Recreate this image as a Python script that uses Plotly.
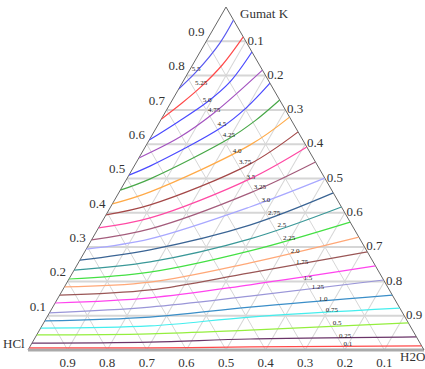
import plotly.graph_objects as go

# Contour levels (labels) from bottom (near HCl-H2O edge) to top (near Gumat K apex)
LEVELS = ["0.1", "0.25", "0.5", "0.75", "1.0", "1.25", "1.5", "1.75", "2.0", "2.25",
          "2.5", "2.75", "3.0", "3.25", "3.5", "3.75", "4.0", "4.25", "4.5", "4.75",
          "5.0", "5.25", "5.5"]

# Points along each contour: Gumat K fraction and H2O fraction (HCl = remainder)
CURVE_GUMAT_K = [
    [0.006, 0.006, 0.009, 0.012],
    [0.020, 0.023, 0.032, 0.038],
    [0.044, 0.047, 0.058, 0.079],
    [0.064, 0.070, 0.096, 0.122],
    [0.085, 0.096, 0.125, 0.160],
    [0.108, 0.125, 0.157, 0.204],
    [0.137, 0.152, 0.190, 0.245],
    [0.160, 0.175, 0.225, 0.286],
    [0.184, 0.198, 0.254, 0.329],
    [0.207, 0.227, 0.289, 0.373],
    [0.233, 0.257, 0.324, 0.417],
    [0.262, 0.292, 0.364, 0.458],
    [0.294, 0.324, 0.417, 0.501],
    [0.321, 0.353, 0.458, 0.548],
    [0.356, 0.385, 0.499, 0.592],
    [0.394, 0.423, 0.542, 0.636],
    [0.426, 0.461, 0.598, 0.679],
    [0.466, 0.499, 0.618, 0.668, 0.729],
    [0.510, 0.536, 0.650, 0.706, 0.778],
    [0.560, 0.621, 0.691, 0.816],
    [0.612, 0.665, 0.723, 0.781, 0.869],
    [0.673, 0.720, 0.767, 0.831, 0.913],
    [0.761, 0.810, 0.895, 0.962],
]
CURVE_H2O = [
    [0.0, 0.305, 0.556, 0.988],
    [0.0, 0.296, 0.545, 0.962],
    [0.0, 0.285, 0.531, 0.921],
    [0.0, 0.273, 0.513, 0.878],
    [0.0, 0.260, 0.498, 0.840],
    [0.0, 0.245, 0.482, 0.796],
    [0.0, 0.232, 0.466, 0.755],
    [0.0, 0.221, 0.448, 0.714],
    [0.0, 0.209, 0.434, 0.671],
    [0.0, 0.194, 0.416, 0.627],
    [0.0, 0.180, 0.399, 0.583],
    [0.0, 0.162, 0.378, 0.542],
    [0.0, 0.146, 0.352, 0.499],
    [0.0, 0.132, 0.332, 0.452],
    [0.0, 0.116, 0.311, 0.408],
    [0.0, 0.097, 0.289, 0.364],
    [0.0, 0.078, 0.262, 0.321],
    [0.0, 0.059, 0.201, 0.239, 0.271],
    [0.0, 0.040, 0.165, 0.198, 0.222],
    [0.0, 0.073, 0.124, 0.184],
    [0.0, 0.046, 0.091, 0.119, 0.131],
    [0.0, 0.029, 0.053, 0.075, 0.087],
    [0.0, 0.019, 0.037, 0.038],
]

# Label anchor positions (Gumat K, H2O)
LABEL_GUMAT_K = [0.018, 0.041, 0.079, 0.117, 0.149, 0.184, 0.210, 0.257, 0.289, 0.327,
                 0.364, 0.399, 0.437, 0.475, 0.504, 0.548, 0.580, 0.627, 0.659, 0.700,
                 0.729, 0.778, 0.819]
LABEL_H2O = [0.799, 0.780, 0.741, 0.709, 0.671, 0.640, 0.602, 0.564, 0.530, 0.496,
             0.459, 0.422, 0.382, 0.348, 0.311, 0.274, 0.238, 0.194, 0.160, 0.120,
             0.088, 0.048, 0.015]

TICK_VALUES = [0.1, 0.2, 0.3, 0.4, 0.5, 0.6, 0.7, 0.8, 0.9]
TICK_TEXT = ["0.1", "0.2", "0.3", "0.4", "0.5", "0.6", "0.7", "0.8", "0.9"]

COLORS = ["#ff4a4a", "#6a3468", "#94ee3e", "#44eeee", "#3a8ec8", "#9a96d8",
          "#ff44ee", "#9a5656", "#ffa878", "#44e044", "#3a9898", "#3a6494",
          "#a8a8ff", "#a45c7c", "#ff4aa4", "#a44848", "#ffaa48", "#48a848",
          "#4a4aff", "#a454c0", "#4a4aff", "#ff4a4a", "#5a5af0"]

FONT = "Liberation Serif"

fig = go.Figure()
for lvl, a_list, c_list, col in zip(LEVELS, CURVE_GUMAT_K, CURVE_H2O, COLORS):
    b_list = [max(0.0, 1 - a - c) for a, c in zip(a_list, c_list)]
    fig.add_trace(go.Scatterternary(
        a=a_list, b=b_list, c=c_list, mode="lines", name=lvl,
        line=dict(color=col, width=1.2, shape="spline", smoothing=1),
        hoverinfo="skip", showlegend=False, cliponaxis=False))

label_b = [max(0.0, 1 - a - c) for a, c in zip(LABEL_GUMAT_K, LABEL_H2O)]
fig.add_trace(go.Scatterternary(
    a=LABEL_GUMAT_K, b=label_b, c=LABEL_H2O, mode="text", text=LEVELS,
    textfont=dict(family=FONT, size=7, color="#222"),
    hoverinfo="skip", showlegend=False, cliponaxis=False))

def axis(linecolor, linewidth, gridwidth, ticktext):
    return dict(
        min=0, tickvals=TICK_VALUES, ticktext=ticktext, ticks="",
        showgrid=True, gridcolor="#d6d6d6", gridwidth=gridwidth,
        showline=True, linecolor=linecolor, linewidth=linewidth,
        tickfont=dict(family=FONT, size=13, color="#333"),
        title=dict(text=""), layer="below traces")

a_ticktext = [t + "<br> " for t in TICK_TEXT]

fig.update_layout(
    width=425, height=369,
    margin=dict(l=28, r=1, t=7, b=19),
    paper_bgcolor="white",
    showlegend=False,
    ternary=dict(
        sum=1, bgcolor="white",
        aaxis=axis("#666666", 1, 1.6, a_ticktext),
        baxis=axis("#aaaaaa", 3, 1, TICK_TEXT),
        caxis=axis("#666666", 1, 1, TICK_TEXT),
    ),
    annotations=[
        dict(text="Gumat K", x=0.598, y=0.9825, xref="paper", yref="paper",
             xanchor="center", yanchor="middle",
             showarrow=False, font=dict(family=FONT, size=13, color="#333")),
        dict(text="HCl", x=-0.002, y=0.02, xref="paper", yref="paper",
             xanchor="right", yanchor="middle",
             showarrow=False, font=dict(family=FONT, size=13, color="#333")),
        dict(text="H2O", x=0.970, y=-0.02, xref="paper", yref="paper",
             xanchor="center", yanchor="middle",
             showarrow=False, font=dict(family=FONT, size=13, color="#333")),
    ],
)

fig.write_html("out.html")
